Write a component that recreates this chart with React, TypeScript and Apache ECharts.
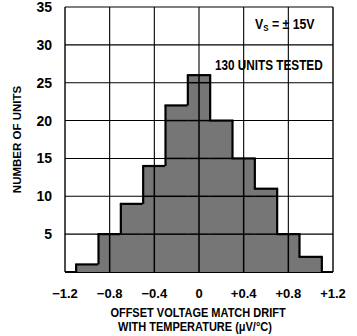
import React, { useEffect, useRef } from "react";
import * as echarts from "echarts";

const binCenters = [-1.0, -0.8, -0.6, -0.4, -0.2, 0, 0.2, 0.4, 0.6, 0.8, 1.0];
const counts = [1, 5, 9, 14, 22, 26, 20, 15, 11, 5, 2];
const binWidth = 0.2;
const yTicks = [0, 5, 10, 15, 20, 25, 30, 35];
const xTicks = [-1.2, -0.8, -0.4, 0, 0.4, 0.8, 1.2];

const FONT = '"Liberation Sans", Arial, Helvetica, sans-serif';
const GRID_W = 1.1;
const INNER_W = 1.5;

export default function App() {
  const ref = useRef<HTMLDivElement>(null);
  useEffect(() => {
    const chart = echarts.init(ref.current!, null, { renderer: "svg" });
    const data = binCenters.map((c, i) => [c, counts[i]]);
    chart.setOption({
      animation: false,
      backgroundColor: "#fff",
      grid: { left: 65, right: 24, top: 6, bottom: 64, show: false },
      xAxis: {
        type: "value",
        min: xTicks[0],
        max: xTicks[xTicks.length - 1],
        interval: 0.4,
        axisLine: { show: false },
        axisTick: { show: false },
        splitLine: { show: false },
        axisLabel: {
          margin: 15,
          color: "#000",
          fontFamily: FONT,
          fontSize: 13,
          fontWeight: "bold",
          formatter: (v: number) => {
            const r = Math.round(v * 10) / 10;
            if (r === 0) return "0";
            return (r > 0 ? "+" : "\u2212") + Math.abs(r).toFixed(1);
          },
        },
      },
      yAxis: {
        type: "value",
        min: yTicks[0],
        max: yTicks[yTicks.length - 1],
        interval: 5,
        axisLine: { show: false },
        axisTick: { show: false },
        splitLine: { show: false },
        axisLabel: {
          margin: 13,
          color: "#000",
          fontFamily: FONT,
          fontSize: 14,
          fontWeight: "bold",
          formatter: (v: number) => (v === 0 ? "" : String(v)),
        },
        name: "NUMBER OF UNITS",
        nameLocation: "middle",
        nameGap: 42,
        nameTextStyle: { color: "#000", fontFamily: FONT, fontSize: 11.5, fontWeight: "bold" },
      },
      series: [
        {
          // grid + frame
          type: "custom",
          z: 1,
          silent: true,
          data: [[0, 0]],
          renderItem: (params: any, api: any) => {
            const children: any[] = [];
            const x0 = xTicks[0];
            const x1 = xTicks[xTicks.length - 1];
            const y0 = yTicks[0];
            const y1 = yTicks[yTicks.length - 1];
            yTicks.forEach((t) => {
              const a = api.coord([x0, t]);
              const b = api.coord([x1, t]);
              children.push({
                type: "line",
                shape: { x1: a[0], y1: a[1], x2: b[0], y2: b[1] },
                style: { stroke: "#000", lineWidth: t === y0 ? 1.8 : GRID_W },
              });
            });
            xTicks.forEach((t) => {
              const a = api.coord([t, y0]);
              const b = api.coord([t, y1]);
              const edge = t === x0 || t === x1;
              children.push({
                type: "line",
                shape: { x1: a[0], y1: a[1], x2: b[0], y2: b[1] },
                style: { stroke: "#000", lineWidth: edge ? 1.4 : GRID_W },
              });
            });
            return { type: "group", children };
          },
        },
        {
          type: "custom",
          z: 2,
          data,
          renderItem: (params: any, api: any) => {
            const i = params.dataIndex;
            const x = api.value(0);
            const y = api.value(1);
            const xa = x - binWidth / 2;
            const xb = x + binWidth / 2;
            const tl = api.coord([xa, y]);
            const br = api.coord([xb, 0]);
            const prev = i > 0 ? counts[i - 1] : 0;
            const pl = api.coord([xa, prev]);
            const lineStyle = { stroke: "#000", lineWidth: 2.2 };
            const children: any[] = [
              {
                type: "rect",
                shape: { x: tl[0] - 0.5, y: tl[1], width: br[0] - tl[0] + 1, height: br[1] - tl[1] },
                style: { fill: "#767676" },
              },
            ];
            for (let k = 0; k < yTicks.length; k++) {
              const t = yTicks[k];
              if (t > 0 && t < y) {
                const a = api.coord([xa, t]);
                const b = api.coord([xb, t]);
                children.push({
                  type: "rect",
                  shape: { x: a[0] - 0.5, y: a[1] - INNER_W / 2, width: b[0] - a[0] + 1, height: INNER_W },
                  style: { fill: "#000" },
                });
              }
            }
            for (let k = 0; k < xTicks.length; k++) {
              const t = xTicks[k];
              if (t > xa - 1e-9 && t < xb + 1e-9) {
                const a = api.coord([t, y]);
                const b = api.coord([t, 0]);
                children.push({
                  type: "rect",
                  shape: { x: a[0] - INNER_W / 2, y: a[1], width: INNER_W, height: b[1] - a[1] },
                  style: { fill: "#000" },
                });
              }
            }
            children.push(
              { type: "line", shape: { x1: tl[0] - 1, y1: tl[1], x2: br[0] + 1, y2: tl[1] }, style: lineStyle },
              { type: "line", shape: { x1: pl[0], y1: pl[1], x2: tl[0], y2: tl[1] }, style: lineStyle }
            );
            if (i === counts.length - 1) {
              children.push({ type: "line", shape: { x1: br[0], y1: tl[1], x2: br[0], y2: br[1] }, style: lineStyle });
            }
            return { type: "group", children };
          },
        },
      ],
      graphic: [
        {
          type: "text",
          x: 255,
          y: 17,
          style: {
            text: "{a|V}{s|S}{a| = \u00b1 15V}",
            rich: {
              a: { fontFamily: FONT, fontSize: 14, fontWeight: "bold", fill: "#000" },
              s: { fontFamily: FONT, fontSize: 9, fontWeight: "bold", fill: "#000", padding: [6, 0, 0, 0] },
            },
          },
          scaleX: 0.88,
        },
        {
          type: "text",
          x: 215,
          y: 58,
          scaleX: 0.84,
          style: { text: "130 UNITS TESTED", fontFamily: FONT, fontSize: 14, fontWeight: "bold", fill: "#000" },
        },
        {
          type: "text",
          x: 198,
          y: 312,
          scaleX: 0.88,
          style: {
            text: "OFFSET VOLTAGE MATCH DRIFT",
            fontFamily: FONT,
            fontSize: 12.5,
            fontWeight: "bold",
            fill: "#000",
            align: "center",
            verticalAlign: "middle",
          },
        },
        {
          type: "text",
          x: 195,
          y: 326,
          scaleX: 0.88,
          style: {
            text: "WITH TEMPERATURE (\u03bcV/\u00b0C)",
            fontFamily: FONT,
            fontSize: 12.5,
            fontWeight: "bold",
            fill: "#000",
            align: "center",
            verticalAlign: "middle",
          },
        },
      ],
    });
    return () => chart.dispose();
  }, []);
  return <div ref={ref} style={{ width: 357, height: 336, position: "absolute", left: 0, top: 0 }} />;
}
